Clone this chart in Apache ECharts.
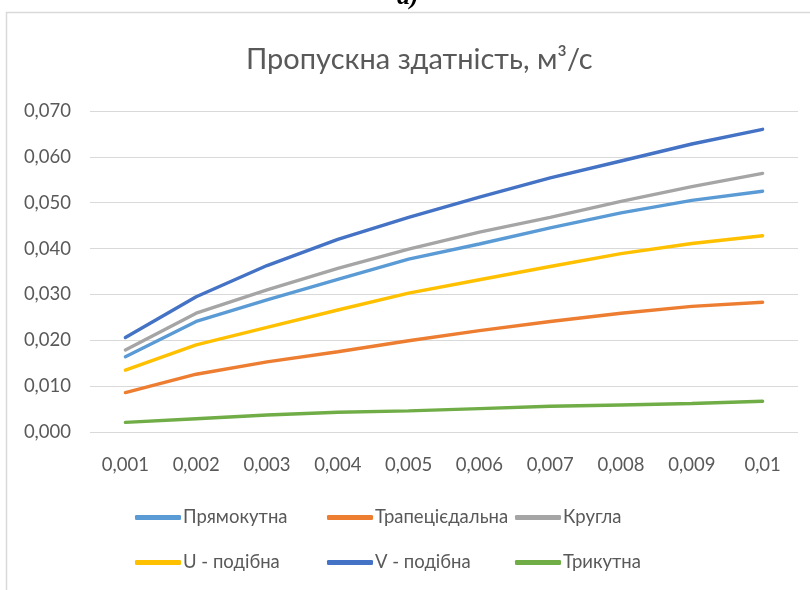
<!DOCTYPE html>
<html>
<head>
<meta charset="utf-8">
<script src="https://cdn.jsdelivr.net/npm/echarts@6/dist/echarts.min.js"></script>
<style>
html,body{margin:0;padding:0;background:#fff;}
#chart{width:810px;height:590px;}
</style>
</head>
<body>
<div id="chart"></div>
<script>
const categories = ['0,001','0,002','0,003','0,004','0,005','0,006','0,007','0,008','0,009','0,01'];
const seriesNames = ['Прямокутна','Трапецієдальна','Кругла','U - подібна','V - подібна','Трикутна'];
const pryamokutna = [0.0164,0.0241,0.0288,0.0333,0.0377,0.0410,0.0445,0.0478,0.0505,0.0525];
const trapetsiedalna = [0.0086,0.0126,0.0153,0.0175,0.0199,0.0221,0.0241,0.0259,0.0274,0.0283];
const kruhla = [0.0179,0.0259,0.0310,0.0357,0.0399,0.0436,0.0468,0.0503,0.0535,0.0564];
const uPodibna = [0.0135,0.0190,0.0228,0.0266,0.0303,0.0332,0.0361,0.0389,0.0411,0.0428];
const vPodibna = [0.0206,0.0295,0.0363,0.0420,0.0468,0.0512,0.0554,0.0591,0.0628,0.0660];
const trykutna = [0.0021,0.0029,0.0037,0.0043,0.0046,0.0051,0.0056,0.0059,0.0062,0.0067];
const seriesData = [pryamokutna,trapetsiedalna,kruhla,uPodibna,vPodibna,trykutna];
const colors = ['#5B9BD5','#ED7D31','#A5A5A5','#FFC000','#4472C4','#70AD47'];
const titleText = 'Пропускна здатність, м³/с';

const FONT = 'Lato, "Open Sans", sans-serif';
const legendPos = [[135,508],[327,508],[515,508],[135,553],[327,553],[515,553]];

const chart = echarts.init(document.getElementById('chart'));
chart.setOption({
  animation:false,
  color:colors,
  title:{text:titleText,left:246,top:45,padding:0,
    textStyle:{fontFamily:FONT,fontSize:29,fontWeight:'normal',color:'#595959'}},
  graphic:[
    {type:'rect',shape:{x:6.5,y:12.5,width:900,height:700},style:{fill:'none',stroke:'#D9D9D9',lineWidth:1.5},silent:true},
    {type:'text',left:397,top:-16,style:{text:'a)',font:'italic bold 26px "Liberation Serif", serif',fill:'#000'}}
  ],
  legend: seriesNames.map((n,i)=>({
    data:[n],left:legendPos[i][0],top:legendPos[i][1],padding:0,
    itemWidth:46,itemHeight:5,itemGap:0,
    icon:'roundRect',
    textStyle:{fontFamily:FONT,fontSize:18.5,color:'#595959',padding:[0,0,0,-3]}
  })),
  grid:{left:90,right:12,top:111,bottom:158,containLabel:false},
  xAxis:{type:'category',data:categories,boundaryGap:true,
    axisLine:{show:false},axisTick:{show:false},
    axisLabel:{fontFamily:FONT,fontSize:18.5,color:'#595959',margin:24}},
  yAxis:{type:'value',min:0,max:0.07,interval:0.01,
    axisLine:{show:false},axisTick:{show:false},
    splitLine:{lineStyle:{color:'#D9D9D9',width:1.2}},
    axisLabel:{fontFamily:FONT,fontSize:18.5,color:'#595959',margin:19,
      formatter:v=>v.toFixed(3).replace('.',',')}},
  series: seriesNames.map((n,i)=>({
    name:n,type:'line',data:seriesData[i],showSymbol:false,symbol:'none',
    lineStyle:{width:3.4,color:colors[i],cap:'round'},itemStyle:{color:colors[i]}
  }))
});
</script>
</body>
</html>
